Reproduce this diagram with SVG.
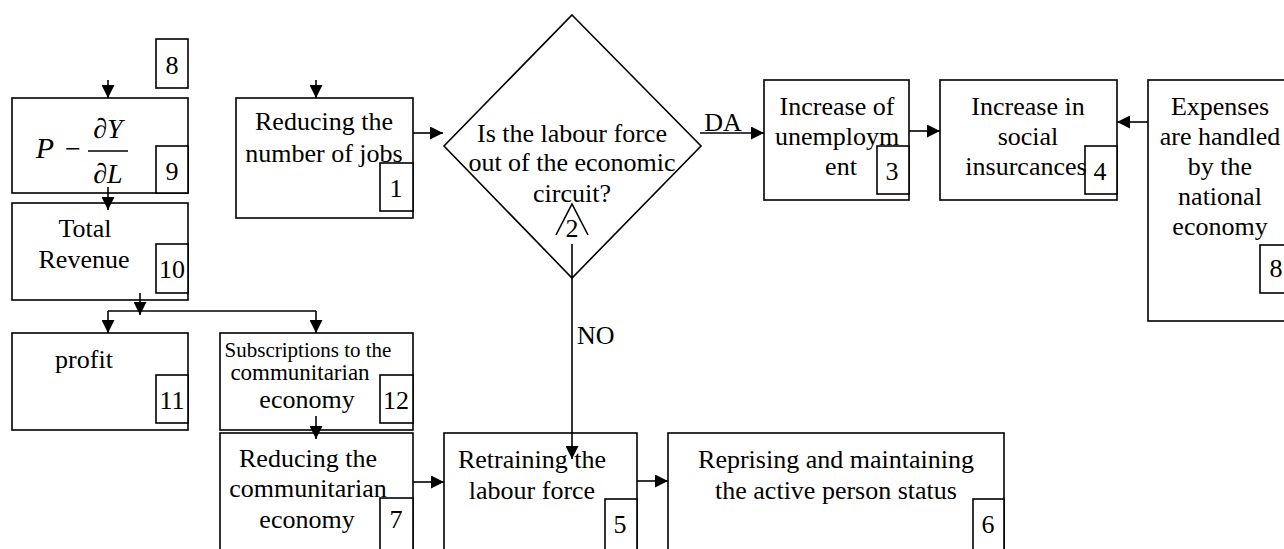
<svg xmlns="http://www.w3.org/2000/svg" width="1284" height="549" viewBox="0 0 1284 549">
<style>
.t{font-family:"Liberation Serif","Times New Roman",serif;font-size:26px;text-anchor:middle;fill:#000}
.s{font-size:21px}
.m{font-size:23px}
.i{font-style:italic}
.box{fill:#fff;stroke:#000;stroke-width:1.6}
.ln{stroke:#000;stroke-width:1.6;fill:none}
.ar{stroke:#000;stroke-width:1.6;fill:none;marker-end:url(#ah)}
</style>
<defs>
<marker id="ah" viewBox="0 0 10 10" refX="10" refY="5" markerWidth="13" markerHeight="13" markerUnits="userSpaceOnUse" orient="auto">
<path d="M0,0 L10,5 L0,10 z" fill="#000"/>
</marker>
</defs>
<rect width="1284" height="549" fill="#fff"/>

<g id="node-8-top">
<rect class="box" x="156" y="39" width="32" height="49"/>
<text class="t" x="172" y="74">8</text>
</g>

<g id="node-9">
<rect class="box" x="12" y="98" width="176" height="95"/>
<rect class="box" x="156" y="146" width="32" height="47"/>
<text class="t i" x="45" y="158" style="font-size:30px">P</text>
<text class="t" x="73" y="158" style="font-size:28px">−</text>
<line class="ln" x1="88" y1="151" x2="128" y2="151"/>
<text class="t i" x="108" y="138" style="font-size:28px">∂Y</text>
<text class="t i" x="108" y="183" style="font-size:28px">∂L</text>
<text class="t" x="172" y="180">9</text>
</g>

<g id="node-10">
<rect class="box" x="12" y="203" width="176" height="97"/>
<rect class="box" x="156" y="244" width="32" height="49"/>
<text class="t" x="85" y="237">Total</text>
<text class="t" x="84" y="268">Revenue</text>
<text class="t" x="172" y="278">10</text>
</g>

<g id="node-11">
<rect class="box" x="12" y="333" width="176" height="97"/>
<rect class="box" x="156" y="375" width="32" height="48"/>
<text class="t" x="84" y="368">profit</text>
<text class="t" x="172" y="409">11</text>
</g>

<g id="node-12">
<rect class="box" x="220" y="333" width="193" height="97"/>
<rect class="box" x="380" y="375" width="33" height="48"/>
<text class="t s" x="308" y="357">Subscriptions to the</text>
<text class="t m" x="300" y="380">communitarian</text>
<text class="t" x="307" y="408">economy</text>
<text class="t" x="396" y="409">12</text>
</g>

<g id="node-7">
<rect class="box" x="220" y="433" width="193" height="130"/>
<rect class="box" x="380" y="498" width="33" height="60"/>
<text class="t" x="308" y="467">Reducing the</text>
<text class="t" x="308" y="497">communitarian</text>
<text class="t" x="307" y="528">economy</text>
<text class="t" x="396" y="528">7</text>
</g>

<g id="node-1">
<rect class="box" x="236" y="98" width="177" height="120"/>
<rect class="box" x="380" y="163" width="33" height="48"/>
<text class="t" x="324" y="130">Reducing the</text>
<text class="t" x="324" y="162">number of jobs</text>
<text class="t" x="396" y="197">1</text>
</g>

<g id="node-2">
<polygon class="box" points="572,15 701,146 572,278 444,146"/>
<text class="t" x="572" y="142">Is the labour force</text>
<text class="t" x="572" y="171">out of the economic</text>
<text class="t" x="572" y="202">circuit?</text>
<polyline class="ln" points="556,235 572,204 588,235"/>
<text class="t" x="572" y="237">2</text>
</g>

<g id="node-3">
<rect class="box" x="764" y="80" width="145" height="120"/>
<rect class="box" x="877" y="146" width="32" height="48"/>
<text class="t" x="837" y="115">Increase of</text>
<text class="t" x="837" y="145">unemploym</text>
<text class="t" x="841" y="175">ent</text>
<text class="t" x="892" y="180">3</text>
</g>

<g id="node-4">
<rect class="box" x="940" y="80" width="177" height="120"/>
<rect class="box" x="1085" y="146" width="32" height="48"/>
<text class="t" x="1028" y="115">Increase in</text>
<text class="t" x="1028" y="145">social</text>
<text class="t" x="1026" y="175">insurcances</text>
<text class="t" x="1100" y="180">4</text>
</g>

<g id="node-8">
<rect class="box" x="1148" y="80" width="150" height="241"/>
<rect class="box" x="1260" y="245" width="34" height="48"/>
<text class="t" x="1220" y="115">Expenses</text>
<text class="t" x="1220" y="145">are handled</text>
<text class="t" x="1220" y="175">by the</text>
<text class="t" x="1220" y="205">national</text>
<text class="t" x="1220" y="235">economy</text>
<text class="t" x="1276" y="277">8</text>
</g>

<g id="node-5">
<rect class="box" x="444" y="433" width="193" height="130"/>
<rect class="box" x="605" y="499" width="32" height="60"/>
<text class="t" x="532" y="468">Retraining the</text>
<text class="t" x="532" y="499">labour force</text>
<text class="t" x="620" y="533">5</text>
</g>

<g id="node-6">
<rect class="box" x="668" y="433" width="336" height="130"/>
<rect class="box" x="973" y="499" width="31" height="60"/>
<text class="t" x="836" y="468">Reprising and maintaining</text>
<text class="t" x="836" y="499">the active person status</text>
<text class="t" x="988" y="533">6</text>
</g>

<g id="connectors">
<line class="ar" x1="108" y1="80" x2="108" y2="98"/>
<line class="ar" x1="316" y1="80" x2="316" y2="98"/>
<line class="ar" x1="413" y1="133" x2="443" y2="133"/>
<line class="ar" x1="700" y1="133" x2="764" y2="133"/>
<text class="t" x="723" y="131">DA</text>
<line class="ar" x1="909" y1="131" x2="940" y2="131"/>
<line class="ar" x1="1148" y1="122" x2="1117" y2="122"/>
<line class="ar" x1="108" y1="187" x2="108" y2="210"/>
<line class="ar" x1="140" y1="293" x2="140" y2="315"/>
<line class="ln" x1="108" y1="311" x2="316" y2="311"/>
<line class="ar" x1="108" y1="311" x2="108" y2="333"/>
<line class="ar" x1="316" y1="311" x2="316" y2="333"/>
<line class="ar" x1="316" y1="416" x2="316" y2="439"/>
<line class="ar" x1="413" y1="482" x2="444" y2="482"/>
<line class="ar" x1="637" y1="481" x2="668" y2="481"/>
<line class="ar" x1="572" y1="244" x2="572" y2="459"/>
<text class="t" x="577" y="344" style="text-anchor:start">NO</text>
</g>
</svg>
